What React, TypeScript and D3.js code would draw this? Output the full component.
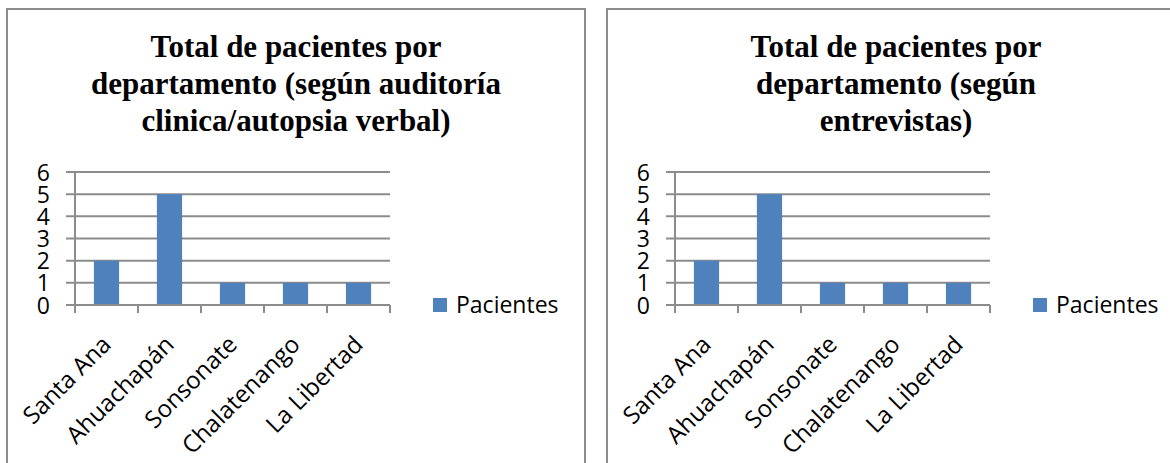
import React from "react";
import * as d3 from "d3";

// Departments on the category axis
const categories = ["Santa Ana", "Ahuachapán", "Sonsonate", "Chalatenango", "La Libertad"];

// Patients per department, two sources
const auditoriaValues = [2, 5, 1, 1, 1];
const entrevistaValues = [2, 5, 1, 1, 1];

// Value axis ticks
const yTickValues = [0, 1, 2, 3, 4, 5, 6];

// Chart titles, one line per entry
const auditoriaTitle = ["Total de pacientes por", "departamento (según auditoría", "clinica/autopsia verbal)"];
const entrevistaTitle = ["Total de pacientes por", "departamento (según", "entrevistas)"];

const seriesName = "Pacientes";

const WIDTH = 1170;
const HEIGHT = 463;
const SANS = "'Open Sans', 'DejaVu Sans', sans-serif";
const SERIF = "'Liberation Serif', 'Times New Roman', serif";
const BAR = "#4f81bd";
const GRID = "#8c8c8c";

type PanelProps = { dx: number; title: string[]; values: number[] };

function Panel({ dx, title, values }: PanelProps) {
  const x = d3.scaleBand<string>().domain(categories).range([75, 390]).paddingInner(0.6).paddingOuter(0.3);
  const y = d3.scaleLinear().domain([0, 6]).range([305, 172]);
  const step = x.step();
  const x0 = x.range()[0];
  const boundaries = d3.range(categories.length + 1).map((i) => x0 + i * step);

  return (
    <g transform={`translate(${dx},0)`}>
      {/* frame */}
      <rect x={7} y={9} width={578} height={520} fill="#fff" stroke={GRID} strokeWidth={2} />

      {/* title */}
      <text x={296} y={57} textAnchor="middle" fontFamily={SERIF} fontWeight="bold" fontSize={31} fill="#000">
        {title.map((line, i) => (
          <tspan key={i} x={296} y={57 + i * 37}>
            {line}
          </tspan>
        ))}
      </text>

      {/* gridlines with left ticks */}
      {yTickValues.map((v) => (
        <line key={`g${v}`} x1={66} x2={390} y1={y(v)} y2={y(v)} stroke={GRID} strokeWidth={2} />
      ))}

      {/* value axis */}
      <line x1={75} x2={75} y1={y(6)} y2={313} stroke={GRID} strokeWidth={2} />
      {yTickValues.map((v) => (
        <text key={`yl${v}`} x={50} y={y(v)} dy="0.37em" textAnchor="end" fontFamily={SANS} fontSize={23} fill="#000">
          {v}
        </text>
      ))}

      {/* category ticks */}
      {boundaries.map((bx, i) => (
        <line key={`t${i}`} x1={bx} x2={bx} y1={y(0)} y2={313} stroke={GRID} strokeWidth={2} />
      ))}

      {/* bars */}
      {categories.map((c, i) => (
        <rect key={`b${c}`} x={x(c)} y={y(values[i])} width={x.bandwidth()} height={y(0) - y(values[i])} fill={BAR} />
      ))}
      <line x1={66} x2={390} y1={y(0)} y2={y(0)} stroke={GRID} strokeWidth={2} />

      {/* rotated category labels */}
      {categories.map((c) => {
        const cx = (x(c) as number) + x.bandwidth() / 2;
        return (
          <text
            key={`cl${c}`}
            transform={`translate(${cx + 6},346) rotate(-45)`}
            textAnchor="end"
            fontFamily={SANS}
            fontSize={24}
            fill="#000"
          >
            {c}
          </text>
        );
      })}

      {/* legend */}
      <rect x={433} y={298} width={14} height={14} fill={BAR} />
      <text x={456} y={313} fontFamily={SANS} fontSize={23} fill="#000">
        {seriesName}
      </text>
    </g>
  );
}

export default function App() {
  return (
    <div style={{ position: "absolute", left: 0, top: 0 }}>
      <svg width={WIDTH} height={HEIGHT} style={{ display: "block", background: "#fff" }}>
        <Panel dx={0} title={auditoriaTitle} values={auditoriaValues} />
        <Panel dx={600} title={entrevistaTitle} values={entrevistaValues} />
      </svg>
    </div>
  );
}
